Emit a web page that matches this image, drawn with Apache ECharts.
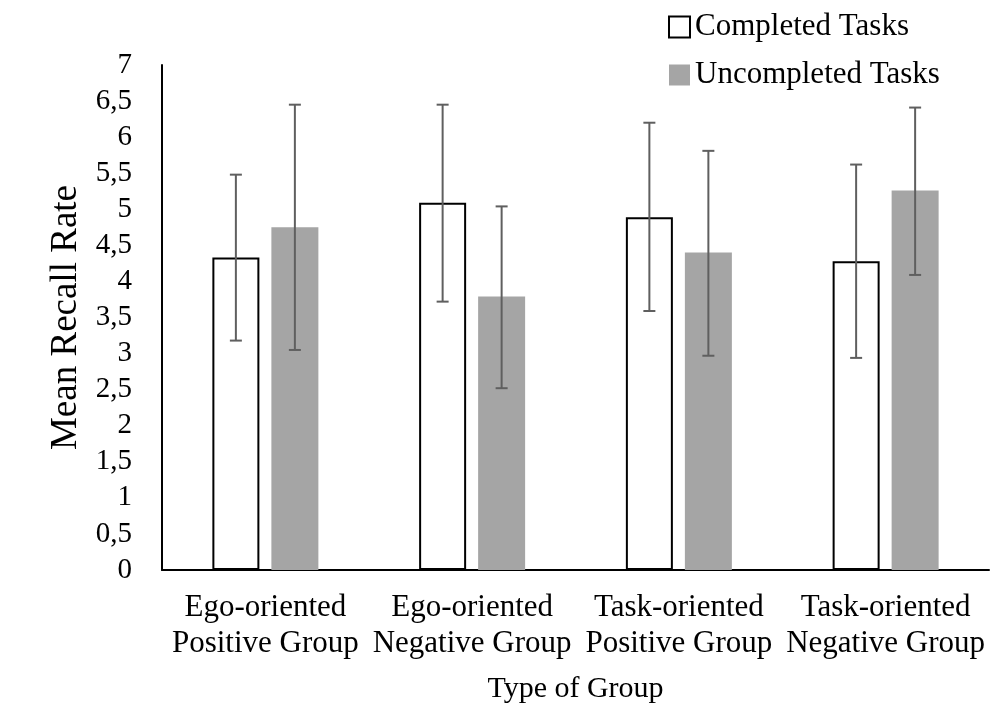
<!DOCTYPE html>
<html>
<head>
<meta charset="utf-8">
<script src="https://cdn.jsdelivr.net/npm/echarts@6/dist/echarts.min.js"></script>
<style>
html,body{margin:0;padding:0;background:#fff;}
#chart{width:991px;height:709px;}
</style>
</head>
<body>
<div id="chart"></div>
<script>
var categories = ['Ego-oriented\nPositive Group', 'Ego-oriented\nNegative Group', 'Task-oriented\nPositive Group', 'Task-oriented\nNegative Group'];
var seriesNames = ['Completed Tasks', 'Uncompleted Tasks'];
var completed = [4.33, 5.09, 4.89, 4.28];
var uncompleted = [4.75, 3.79, 4.40, 5.26];
var completedLow = [3.18, 3.72, 3.59, 2.94];
var completedHigh = [5.48, 6.45, 6.20, 5.62];
var uncompletedLow = [3.05, 2.52, 2.97, 4.09];
var uncompletedHigh = [6.45, 5.04, 5.81, 6.41];
var yMin = 0, yMax = 7, yStep = 0.5;

var FONT = "'Liberation Serif', 'Times New Roman', serif";
var BAR_W = 47, BAR_GAP = 12;

function errData(lo, hi) {
  return lo.map(function (v, i) { return [i, v, hi[i]]; });
}
function errSeries(lo, hi, side) {
  return {
    type: 'custom',
    z: 10,
    silent: true,
    data: errData(lo, hi),
    encode: { x: 0, y: [1, 2] },
    renderItem: function (params, api) {
      var i = api.value(0);
      var pLo = api.coord([i, api.value(1)]);
      var pHi = api.coord([i, api.value(2)]);
      var x = pLo[0] + side * (BAR_W + BAR_GAP) / 2;
      var cap = 6;
      var st = { stroke: '#5f5f5f', lineWidth: 2 };
      return {
        type: 'group',
        children: [
          { type: 'line', shape: { x1: x, y1: pLo[1], x2: x, y2: pHi[1] }, style: st },
          { type: 'line', shape: { x1: x - cap, y1: pLo[1], x2: x + cap, y2: pLo[1] }, style: st },
          { type: 'line', shape: { x1: x - cap, y1: pHi[1], x2: x + cap, y2: pHi[1] }, style: st }
        ]
      };
    }
  };
}

var chart = echarts.init(document.getElementById('chart'), null, { renderer: 'canvas' });
chart.setOption({
  animation: false,
  backgroundColor: '#ffffff',
  textStyle: { fontFamily: FONT },
  grid: { left: 162, right: 2, top: 65, bottom: 136 },
  legend: {
    orient: 'vertical',
    left: 663,
    top: 4,
    itemWidth: 21,
    itemHeight: 21,
    itemGap: 12,
    icon: 'rect',
    data: seriesNames,
    textStyle: { fontFamily: FONT, fontSize: 31, color: '#000', lineHeight: 36 }
  },
  xAxis: {
    type: 'category',
    data: categories,
    name: 'Type of Group',
    nameLocation: 'middle',
    nameGap: 104,
    nameTextStyle: { fontFamily: FONT, fontSize: 30, color: '#000' },
    axisLine: { lineStyle: { color: '#000', width: 2 } },
    axisTick: { show: false },
    axisLabel: { fontFamily: FONT, fontSize: 31, color: '#000', lineHeight: 36, margin: 20, interval: 0 }
  },
  yAxis: {
    type: 'value',
    min: yMin, max: yMax, interval: yStep,
    name: 'Mean Recall Rate',
    nameLocation: 'middle',
    nameGap: 74,
    nameTextStyle: { fontFamily: FONT, fontSize: 37, color: '#000' },
    axisLine: { show: true, lineStyle: { color: '#000', width: 2 } },
    axisTick: { show: false },
    splitLine: { show: false },
    axisLabel: {
      fontFamily: FONT, fontSize: 29, color: '#000', margin: 30,
      formatter: function (v) { return String(v).replace('.', ','); }
    }
  },
  series: [
    {
      name: seriesNames[0], type: 'bar', data: completed,
      barWidth: BAR_W, barGap: (BAR_GAP / BAR_W * 100) + '%',
      itemStyle: { color: '#ffffff', borderColor: '#000000', borderWidth: 2 }
    },
    {
      name: seriesNames[1], type: 'bar', data: uncompleted,
      barWidth: BAR_W,
      itemStyle: { color: '#a5a5a5' }
    },
    errSeries(completedLow, completedHigh, -1),
    errSeries(uncompletedLow, uncompletedHigh, 1)
  ]
});
</script>
</body>
</html>
